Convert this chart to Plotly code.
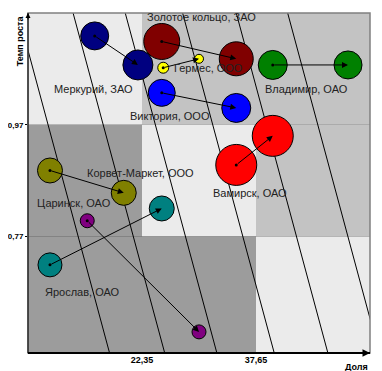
import plotly.graph_objects as go

# ---- data ----
companies = ["Меркурий, ЗАО", "Золотое кольцо, ЗАО", "Гермес, ООО", "Виктория, ООО",
             "Владимир, ОАО", "Вамирск, ОАО", "Корвет-Маркет, ООО", "Ярослав, ОАО", "Царинск, ОАО"]
colors = ["#000080", "#800000", "#ffff00", "#0000ff", "#008000", "#ff0000", "#808000", "#008080", "#800080"]
share_old = [16.0, 25.0, 25.2, 25.0, 39.9, 35.0, 10.0, 10.0, 15.0]
growth_old = [1.129, 1.119, 1.072, 1.027, 1.077, 0.898, 0.888, 0.719, 0.798]
share_new = [21.8, 35.0, 30.0, 35.0, 50.0, 39.9, 19.9, 25.0, 30.0]
growth_new = [1.077, 1.088, 1.088, 1.000, 1.077, 0.950, 0.848, 0.820, 0.599]
size_old = [28, 36, 11, 27, 29, 41, 25, 24, 14]
size_new = [30, 34, 9, 29, 28, 41, 25, 25, 14]
label_x = [15.8, 30.3, 31.3, 26.1, 44.4, 36.8, 22.1, 14.4, 13.2]
label_y = [1.034, 1.162, 1.072, 0.986, 1.034, 0.848, 0.884, 0.671, 0.830]

x_ticks = [22.35, 37.65]
x_tick_text = ["22,35", "37,65"]
y_ticks = [0.77, 0.97]
y_tick_text = ["0,77", "0,97"]
x_range = [7.05, 52.95]
y_range = [0.5612, 1.17]

# iso-lines: x at top of chart and slope (share units per growth unit)
iso_top_x = [5.7, 13.1, 20.1, 27.8, 35.0, 41.9]
iso_slope = 20.2

# background cells colours (rows from top, cols from left)
cell_colors = [["#ebebeb", "#c3c3c3", "#c3c3c3"],
               ["#9c9c9c", "#ebebeb", "#c3c3c3"],
               ["#9c9c9c", "#9c9c9c", "#ebebeb"]]

fig = go.Figure()

xb = [x_range[0], x_ticks[0], x_ticks[1], x_range[1]]
yb = [y_range[1], y_ticks[1], y_ticks[0], y_range[0]]
for r in range(3):
    for c in range(3):
        fig.add_shape(type="rect", xref="x", yref="y", x0=xb[c], x1=xb[c + 1],
                      y0=yb[r + 1], y1=yb[r], fillcolor=cell_colors[r][c],
                      line=dict(width=0), layer="below")

# iso lines
for tx in iso_top_x:
    fig.add_trace(go.Scatter(
        x=[tx, tx + iso_slope * (y_range[1] - y_range[0])],
        y=[y_range[1], y_range[0]], mode="lines",
        line=dict(color="#000000", width=1), hoverinfo="skip", showlegend=False))

# bubbles
for i in range(len(companies)):
    fig.add_trace(go.Scatter(
        x=[share_old[i], share_new[i]], y=[growth_old[i], growth_new[i]],
        mode="markers",
        marker=dict(size=[size_old[i], size_new[i]], color=colors[i], opacity=1,
                    line=dict(color="#000000", width=1)),
        name=companies[i], showlegend=False, cliponaxis=False))

# start dots
fig.add_trace(go.Scatter(x=share_old, y=growth_old, mode="markers",
                         marker=dict(size=3, color="#000000"),
                         hoverinfo="skip", showlegend=False))

# arrows
for i in range(len(companies)):
    fig.add_annotation(x=share_new[i], y=growth_new[i], ax=share_old[i], ay=growth_old[i],
                       xref="x", yref="y", axref="x", ayref="y", text="",
                       showarrow=True, arrowhead=2, arrowsize=1.2, arrowwidth=1,
                       arrowcolor="#000000", standoff=0, startstandoff=0)

# labels
for i in range(len(companies)):
    fig.add_annotation(x=label_x[i], y=label_y[i], xref="x", yref="y", text=companies[i],
                       showarrow=False, font=dict(family="Arial", size=11, color="#222222"))

# grid lines at thirds
for xv in x_ticks:
    fig.add_shape(type="line", xref="x", yref="paper", x0=xv, x1=xv, y0=0, y1=1,
                  line=dict(color="#202020", width=1), layer="between")
for yv in y_ticks:
    fig.add_shape(type="line", xref="paper", yref="y", x0=0, x1=1, y0=yv, y1=yv,
                  line=dict(color="#202020", width=1), layer="between")

# frame
fig.add_shape(type="rect", xref="paper", yref="paper", x0=0, x1=1, y0=0, y1=1,
              line=dict(color="#808080", width=1.5), layer="above")
fig.add_shape(type="line", xref="paper", yref="paper", x0=0, x1=0, y0=0, y1=1,
              line=dict(color="#000000", width=1), layer="above")
fig.add_shape(type="line", xref="paper", yref="paper", x0=0, x1=1, y0=0, y1=0,
              line=dict(color="#000000", width=2), layer="above")

# axis arrowheads
fig.add_annotation(x=0, y=1, xref="paper", yref="paper", ax=0, ay=8, text="",
                   showarrow=True, arrowhead=2, arrowsize=1, arrowwidth=1, arrowcolor="#000")
fig.add_annotation(x=1.0, y=0, xref="paper", yref="paper", ax=-10, ay=0, text="",
                   showarrow=True, arrowhead=2, arrowsize=1, arrowwidth=1.5, arrowcolor="#000")

# axis titles
fig.add_annotation(x=-0.024, y=1.0, xref="paper", yref="paper", text="<b>Темп роста</b>",
                   textangle=-90, showarrow=False, yanchor="top", xanchor="center",
                   font=dict(family="Arial", size=9, color="#000"))
fig.add_annotation(x=1.0, y=-0.022, xref="paper", yref="paper", text="<b>Доля</b>",
                   showarrow=False, xanchor="right", yanchor="top",
                   font=dict(family="Arial", size=9, color="#000"))

fig.update_xaxes(range=x_range, tickvals=x_ticks, ticktext=["<b>%s</b>" % t for t in x_tick_text],
                 showgrid=False, zeroline=False, showline=False, ticks="",
                 tickfont=dict(family="Arial", size=9, color="#000"), fixedrange=True)
fig.update_yaxes(range=y_range, tickvals=y_ticks, ticktext=["<b>%s</b>" % t for t in y_tick_text],
                 showgrid=False, zeroline=False, showline=False, ticks="outside", ticklen=2,
                 ticklabelstandoff=0, tickcolor="#000",
                 tickfont=dict(family="Arial", size=8, color="#000"),
                 fixedrange=True)

fig.update_layout(width=374, height=363, margin=dict(l=20, r=12, t=5, b=18, autoexpand=False),
                  paper_bgcolor="#ffffff", plot_bgcolor="#ebebeb", showlegend=False)

fig.write_html("out.html")
